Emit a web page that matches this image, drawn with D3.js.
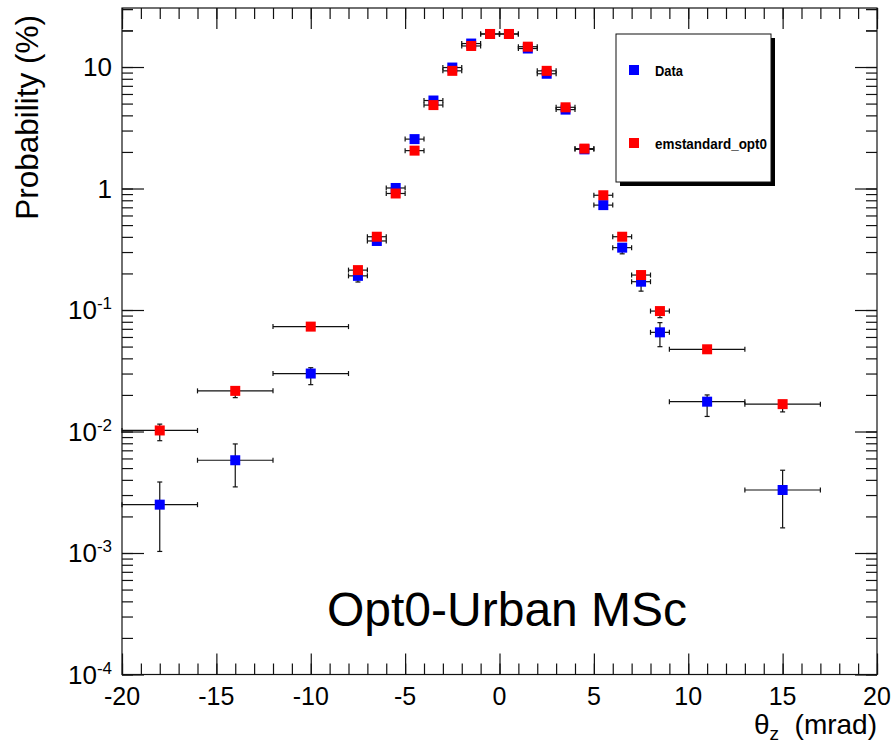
<!DOCTYPE html>
<html>
<head>
<meta charset="utf-8">
<script src="https://cdn.jsdelivr.net/npm/d3@7"></script>
<style>
  html, body { margin: 0; padding: 0; background: #fff; }
  svg { display: block; font-family: "Liberation Sans", Arial, Helvetica, sans-serif; }
</style>
</head>
<body>
<svg id="chart" width="892" height="745"></svg>
<script>
// Bin centres and half-widths (mrad)
const binCentres = [-18, -14, -10, -7.5, -6.5, -5.5, -4.5, -3.5, -2.5, -1.5, -0.5,
                    0.5, 1.5, 2.5, 3.5, 4.5, 5.5, 6.5, 7.5, 8.5, 11, 15];
const binHalfWidths = [2, 2, 2, 0.5, 0.5, 0.5, 0.5, 0.5, 0.5, 0.5, 0.5,
                       0.5, 0.5, 0.5, 0.5, 0.5, 0.5, 0.5, 0.5, 0.5, 2, 2];

// Measured distribution (%), with lower / upper error-bar ends
const dataValues = [0.0025, 0.0058, 0.030, 0.191, 0.370, 1.01, 2.55, 5.30, 9.9, 15.6, 18.7,
                    18.7, 14.2, 8.8, 4.46, 2.10, 0.73, 0.326, 0.171, 0.0655, 0.0176, 0.0033];
const dataLow    = [0.00103, 0.0035, 0.0243, 0.170, 0.350, 0.97, 2.46, 5.15, 9.6, 15.2, 18.3,
                    18.3, 13.8, 8.5, 4.33, 2.03, 0.70, 0.290, 0.143, 0.0499, 0.0133, 0.00161];
const dataHigh   = [0.00384, 0.0079, 0.0335, 0.205, 0.390, 1.05, 2.64, 5.45, 10.2, 16.0, 19.1,
                    19.1, 14.6, 9.1, 4.59, 2.17, 0.76, 0.350, 0.190, 0.0787, 0.0200, 0.0048];

// Simulation, emstandard_opt0 (%)
const mcValues = [0.0102, 0.0216, 0.073, 0.213, 0.401, 0.91, 2.05, 4.86, 9.3, 14.9, 18.7,
                  18.7, 14.7, 9.3, 4.66, 2.13, 0.88, 0.401, 0.194, 0.098, 0.0475, 0.0168];
const mcLow    = [0.0084, 0.0190, 0.071, 0.207, 0.392, 0.89, 2.01, 4.78, 9.2, 14.8, 18.6,
                  18.6, 14.6, 9.2, 4.58, 2.09, 0.86, 0.390, 0.186, 0.0865, 0.0455, 0.0145];
const mcHigh   = [0.0115, 0.0228, 0.075, 0.219, 0.410, 0.93, 2.09, 4.94, 9.4, 15.0, 18.8,
                  18.8, 14.8, 9.4, 4.74, 2.17, 0.90, 0.412, 0.202, 0.104, 0.0495, 0.0180];

const seriesNames = ["Data", "emstandard_opt0"];
const seriesColours = ["#0000ff", "#ff0000"];

const xTickLabels = [-20, -15, -10, -5, 0, 5, 10, 15, 20];
const yDecades = [-4, -3, -2, -1, 0, 1];

const xDomain = [-20, 20];
const yDomain = [1e-4, 30.6];

// ---- layout ----
const frame = { left: 122, right: 877, top: 8, bottom: 674.5 };
const svg = d3.select("#chart");

const x = d3.scaleLinear().domain(xDomain).range([frame.left, frame.right]);
const y = d3.scaleLog().domain(yDomain).range([frame.bottom, frame.top]);

const ink = "#111";

// frame
svg.append("rect")
  .attr("x", frame.left).attr("y", frame.top)
  .attr("width", frame.right - frame.left).attr("height", frame.bottom - frame.top)
  .attr("fill", "none").attr("stroke", ink).attr("stroke-width", 1.2);

// ---- ticks ----
const xMinor = d3.range(xDomain[0], xDomain[1] + 1, 1);
const yMinor = [];
yDecades.forEach(e => { for (let m = 1; m <= 9; m++) { const v = m * Math.pow(10, e); if (v <= yDomain[1]) yMinor.push(v); } });
yMinor.push(20, 30);
const yMajor = yDecades.map(e => Math.pow(10, e));

function tickAxis(axisFn, scale, values, size, transform) {
  const g = svg.append("g")
    .attr("transform", transform)
    .call(axisFn(scale).tickValues(values).tickSize(size).tickFormat(""));
  g.select(".domain").remove();
  g.selectAll(".tick line").attr("stroke", ink).attr("stroke-width", 1.2);
  return g;
}
// bottom / top
tickAxis(d3.axisBottom, x, xMinor, -11, `translate(0,${frame.bottom})`);
tickAxis(d3.axisBottom, x, xTickLabels, -21, `translate(0,${frame.bottom})`);
tickAxis(d3.axisTop, x, xMinor, -11, `translate(0,${frame.top})`);
tickAxis(d3.axisTop, x, xTickLabels, -21, `translate(0,${frame.top})`);
// left / right
tickAxis(d3.axisLeft, y, yMinor.filter(v => v < yDomain[1]), -11, `translate(${frame.left},0)`);
tickAxis(d3.axisLeft, y, yMajor, -22, `translate(${frame.left},0)`);
tickAxis(d3.axisRight, y, yMinor.filter(v => v < yDomain[1]), -11, `translate(${frame.right},0)`);
tickAxis(d3.axisRight, y, yMajor, -22, `translate(${frame.right},0)`);

// x tick labels
svg.append("g").selectAll("text").data(xTickLabels).join("text")
  .attr("x", d => x(d)).attr("y", 705)
  .attr("text-anchor", "middle")
  .attr("font-size", 25).attr("fill", "#000")
  .text(d => d);

// y tick labels (powers of ten)
const yLab = svg.append("g").selectAll("text").data(yDecades).join("text")
  .attr("x", 112).attr("y", d => y(Math.pow(10, d)) + 9)
  .attr("text-anchor", "end").attr("font-size", 26).attr("fill", "#000");
yLab.each(function (e) {
  const t = d3.select(this);
  if (e === 0) t.text("1");
  else if (e === 1) t.text("10");
  else {
    t.append("tspan").text("10");
    t.append("tspan").attr("dy", -10).attr("font-size", 17).text(String(e));
  }
});

// axis titles
const xt = svg.append("text").attr("x", 877).attr("y", 734)
  .attr("text-anchor", "end").attr("font-size", 28).attr("fill", "#000");
xt.append("tspan").text("θ");
xt.append("tspan").attr("dy", 6).attr("font-size", 19).text("z");
xt.append("tspan").attr("dy", -6).text("\u00a0 (mrad)");

svg.append("text")
  .attr("transform", "translate(38,15) rotate(-90)")
  .attr("text-anchor", "end").attr("font-size", 31.5).attr("fill", "#000")
  .text("Probability (%)");

// ---- data points with error bars ----
const series = [
  { name: seriesNames[0], colour: seriesColours[0], v: dataValues, lo: dataLow, hi: dataHigh },
  { name: seriesNames[1], colour: seriesColours[1], v: mcValues, lo: mcLow, hi: mcHigh }
];
const cap = 2.5, ms = 10;

series.forEach(s => {
  const pts = binCentres.map((c, i) => ({ c, hw: binHalfWidths[i], v: s.v[i], lo: s.lo[i], hi: s.hi[i] }));
  const g = svg.append("g");
  const eb = g.append("g").attr("stroke", ink).attr("stroke-width", 1.2).attr("fill", "none");
  pts.forEach(p => {
    const cx = x(p.c), cy = y(p.v);
    const x0 = x(p.c - p.hw), x1 = x(p.c + p.hw);
    const yl = y(p.lo), yh = y(p.hi);
    eb.append("line").attr("x1", x0).attr("x2", x1).attr("y1", cy).attr("y2", cy);
    eb.append("line").attr("x1", x0).attr("x2", x0).attr("y1", cy - cap).attr("y2", cy + cap);
    eb.append("line").attr("x1", x1).attr("x2", x1).attr("y1", cy - cap).attr("y2", cy + cap);
    eb.append("line").attr("x1", cx).attr("x2", cx).attr("y1", yl).attr("y2", yh);
    eb.append("line").attr("x1", cx - cap).attr("x2", cx + cap).attr("y1", yl).attr("y2", yl);
    eb.append("line").attr("x1", cx - cap).attr("x2", cx + cap).attr("y1", yh).attr("y2", yh);
  });
  g.selectAll("rect").data(pts).join("rect")
    .attr("x", d => x(d.c) - ms / 2).attr("y", d => y(d.v) - ms / 2)
    .attr("width", ms).attr("height", ms)
    .attr("fill", s.colour);
});

// ---- legend ----
const lg = { x: 616, y: 34, w: 155, h: 148 };
svg.append("rect").attr("x", lg.x + 4).attr("y", lg.y + 4).attr("width", lg.w).attr("height", lg.h).attr("fill", "#000");
svg.append("rect").attr("x", lg.x).attr("y", lg.y).attr("width", lg.w).attr("height", lg.h)
  .attr("fill", "#fff").attr("stroke", ink).attr("stroke-width", 1);
const legendRowsY = [70, 143];
const legendTextWidths = [28, 112];
series.forEach((s, i) => {
  svg.append("rect").attr("x", 634 - ms / 2).attr("y", legendRowsY[i] - ms / 2)
    .attr("width", ms).attr("height", ms).attr("fill", s.colour);
  svg.append("text").attr("x", 655).attr("y", legendRowsY[i] + 6)
    .attr("font-size", 15).attr("font-weight", "bold").attr("fill", "#000")
    .attr("textLength", legendTextWidths[i]).attr("lengthAdjust", "spacingAndGlyphs")
    .text(s.name);
});

// ---- annotation ----
svg.append("text").attr("x", 327).attr("y", 626)
  .attr("font-size", 48).attr("fill", "#000")
  .text("Opt0-Urban MSc");
</script>
</body>
</html>
